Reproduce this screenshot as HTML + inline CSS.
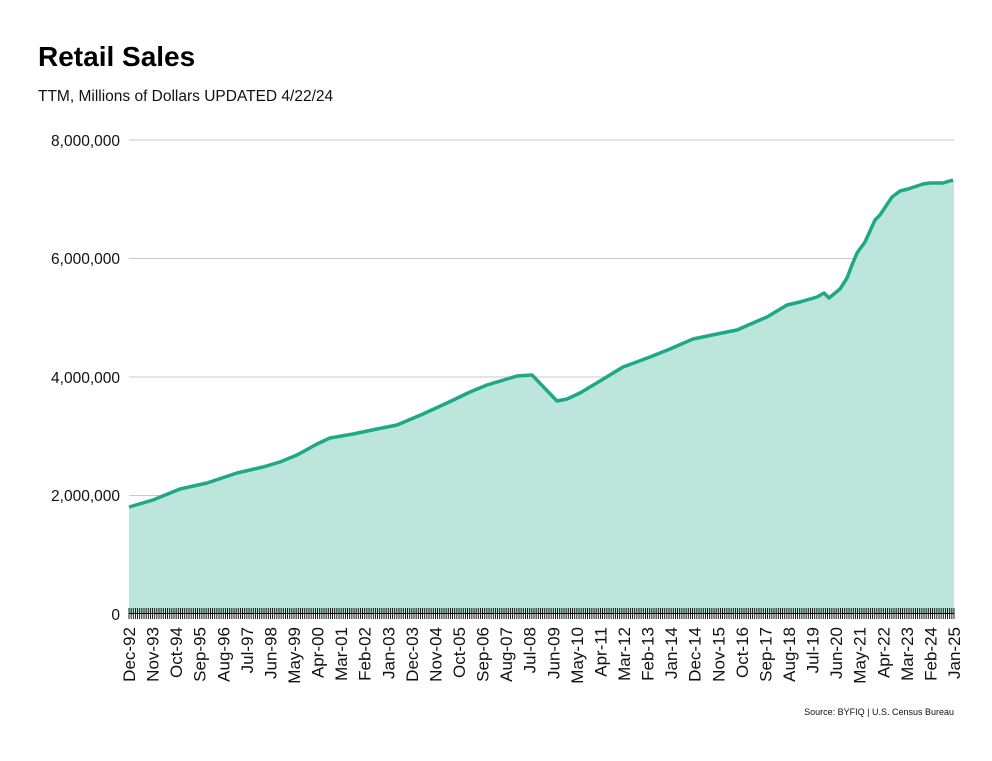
<!DOCTYPE html>
<html><head><meta charset="utf-8"><style>
body{margin:0;background:#fff;font-family:"Liberation Sans",sans-serif;}
</style></head><body>
<svg width="992" height="756" xmlns="http://www.w3.org/2000/svg" font-family="Liberation Sans, sans-serif">
<text x="38" y="66" font-size="28" font-weight="bold" fill="#000">Retail Sales</text>
<text x="38" y="101" font-size="15.5" fill="#111">TTM, Millions of Dollars UPDATED 4/22/24</text>
<g stroke="#c8c8c8" stroke-width="1">
<line x1="129" x2="954" y1="140" y2="140"/><line x1="129" x2="954" y1="258.5" y2="258.5"/><line x1="129" x2="954" y1="377" y2="377"/><line x1="129" x2="954" y1="495.5" y2="495.5"/>
</g>
<g font-size="15.5" fill="#111" text-anchor="end">
<text x="120" y="146">8,000,000</text><text x="120" y="264">6,000,000</text><text x="120" y="383">4,000,000</text><text x="120" y="501">2,000,000</text><text x="120" y="620">0</text>
</g>
<path d="M129,507 L153,500 L180,489 L207,483 L237,473 L263,467 L280,462 L297,455 L317,444 L330,438 L353,434 L377,429 L397,425 L423,414 L447,403 L470,392 L487,385 L507,379 L517,376 L532,375 L557,401 L567,399 L580,393 L600,381 L623,367 L650,357 L670,349 L693,339 L717,334 L737,330 L753,323 L767,317 L787,305 L800,302 L817,297 L824,293 L829,298 L840,289 L847,278 L852,265 L857,253 L865,242 L875,220 L880,215 L892,197 L900,191 L908,189 L923,184 L930,183 L943,183 L953,180 L954,180 L954,614 L129,614Z" fill="#bce6dc"/>
<path d="M129,507 L153,500 L180,489 L207,483 L237,473 L263,467 L280,462 L297,455 L317,444 L330,438 L353,434 L377,429 L397,425 L423,414 L447,403 L470,392 L487,385 L507,379 L517,376 L532,375 L557,401 L567,399 L580,393 L600,381 L623,367 L650,357 L670,349 L693,339 L717,334 L737,330 L753,323 L767,317 L787,305 L800,302 L817,297 L824,293 L829,298 L840,289 L847,278 L852,265 L857,253 L865,242 L875,220 L880,215 L892,197 L900,191 L908,189 L923,184 L930,183 L943,183 L953,180" fill="none" stroke="#1fa886" stroke-width="3.5" stroke-linejoin="round"/>
<line x1="129" x2="954" y1="613.5" y2="613.5" stroke="#000" stroke-width="1"/>
<g id="ticks"></g>
<g id="labels" font-size="17" fill="#111" text-anchor="end"></g>
<text x="954" y="715" font-size="9" fill="#111" text-anchor="end">Source: BYFIQ | U.S. Census Bureau</text>
<script>
var ns="http://www.w3.org/2000/svg",t=document.getElementById("ticks"),d="";
for(var i=0;i<=385;i++){var x=129+i*825/385;d+="M"+x.toFixed(2)+",608V619";}
var p=document.createElementNS(ns,"path");p.setAttribute("d",d);p.setAttribute("stroke","#000");p.setAttribute("stroke-width","0.9");t.appendChild(p);
var m=["Jan","Feb","Mar","Apr","May","Jun","Jul","Aug","Sep","Oct","Nov","Dec"],g=document.getElementById("labels");
for(var k=0;k<=35;k++){var mo=11+11*k,yr=92+Math.floor(mo/12),mm=mo%12;var s=m[mm]+"-"+String(yr%100).padStart(2,"0");
var x=129+k*11*825/385+6;var e=document.createElementNS(ns,"text");e.setAttribute("transform","translate("+x.toFixed(2)+",627) rotate(-90)");e.textContent=s;g.appendChild(e);}
</script>
</svg>
</body></html>
